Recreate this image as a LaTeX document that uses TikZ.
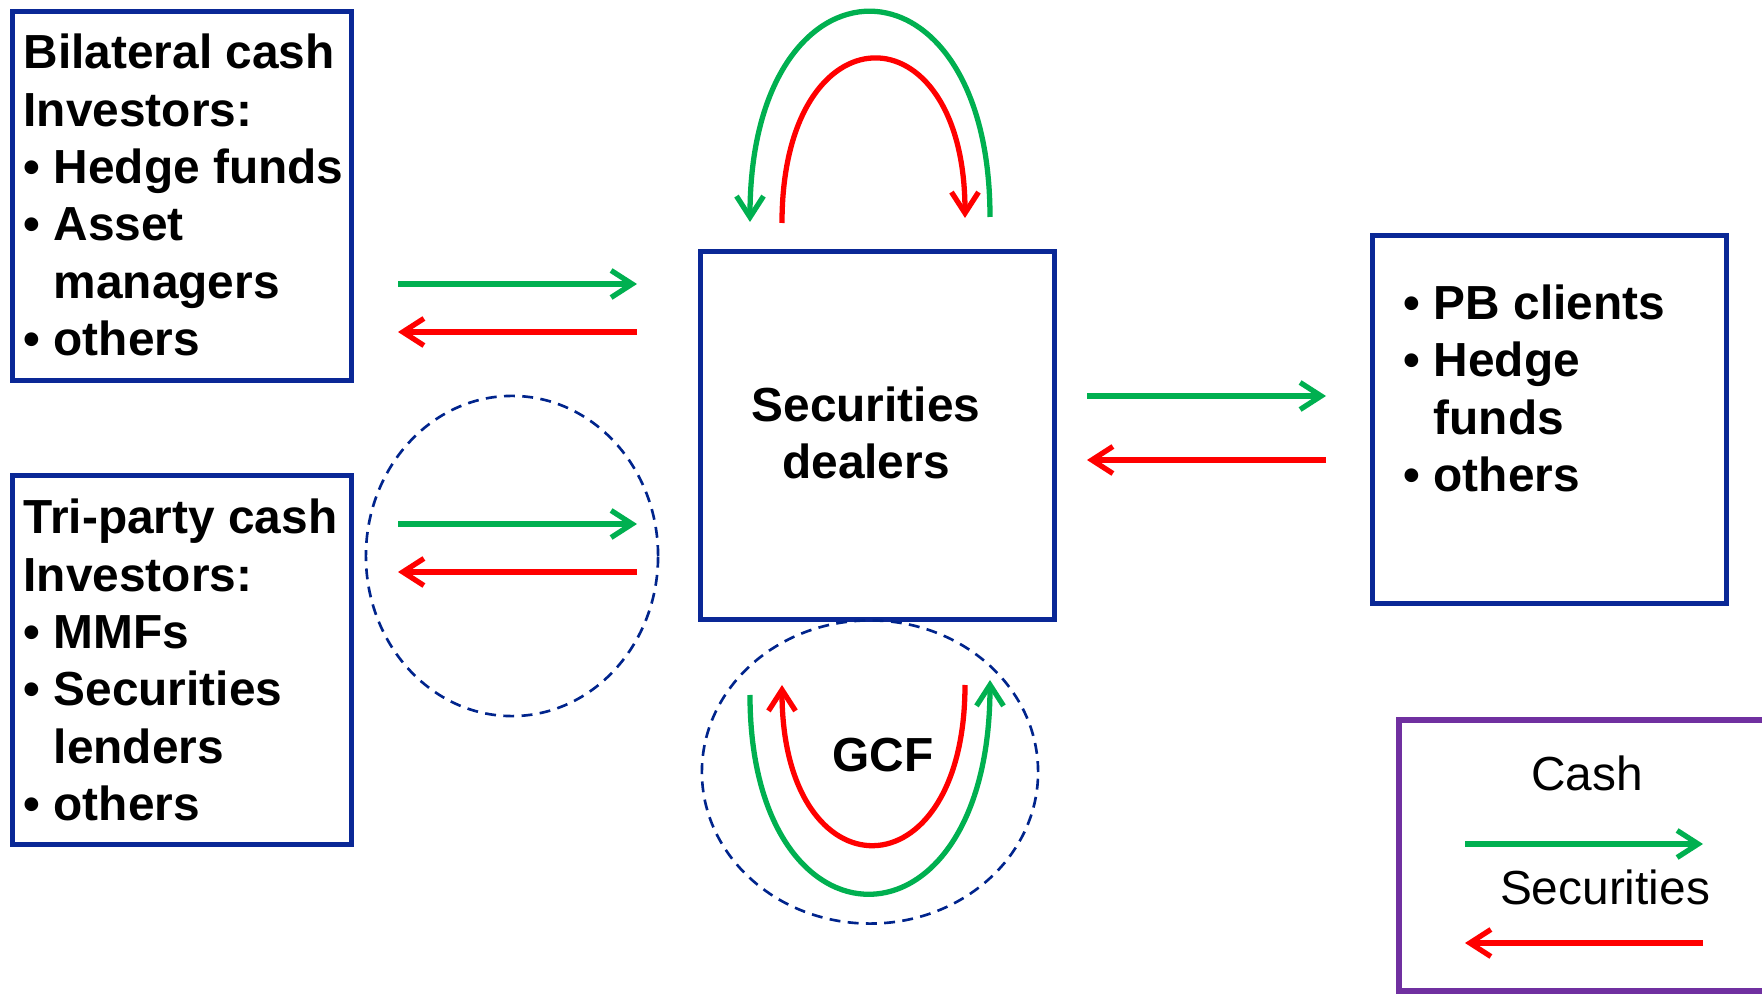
\documentclass[tikz,border=0pt]{standalone}
\usepackage{fontspec}
\setmainfont{Liberation Sans}
\usetikzlibrary{arrows.meta,shapes.geometric}

\definecolor{boxblue}{RGB}{10,40,150}
\definecolor{ringblue}{RGB}{0,36,140}
\definecolor{cashgreen}{RGB}{0,176,80}
\definecolor{secred}{RGB}{255,0,0}
\definecolor{keypurple}{RGB}{112,48,160}

\newcommand{\boxfont}{\fontsize{13.6}{16.3}\selectfont\bfseries}
\newcommand{\keyfont}{\fontsize{13.6}{16.3}\selectfont}
\newcommand{\itm}{\textbullet\ }
\newcommand{\itmgap}{\hphantom{\textbullet\ }}

\begin{document}
\begin{tikzpicture}[
		x=0.01cm, y=-0.01cm,
		party/.style={rectangle, draw=boxblue, line width=1.4pt, minimum width=3.38cm, minimum height=3.68cm},
		list/.style={font=\boxfont, align=left, inner sep=0},
		ring/.style={ellipse, draw=ringblue, line width=0.75pt, dash pattern=on 3.1pt off 2.1pt, inner sep=0},
		cash/.style={draw=cashgreen, line width=1.5pt, -{Straight Barb[length=2.1mm,width=2.7mm]}},
		sec/.style={draw=secred, line width=1.5pt, -{Straight Barb[length=2.1mm,width=2.7mm]}}
	]
  \useasboundingbox (0,0) rectangle (1762,994);
  \node (bilateral) [party] at (182,196) {};
  \node (bilateral_list) [list, anchor=west] at (23,195) {Bilateral cash\\Investors:\\\itm Hedge funds\\\itm Asset\\\itmgap managers\\\itm others};
  \node (triparty) [party] at (182,660) {};
  \node (triparty_list) [list, anchor=west] at (23,660) {Tri-party cash\\Investors:\\\itm MMFs\\\itm Securities\\\itmgap lenders\\\itm others};
  \node (dealers) [party, minimum width=3.53cm, minimum height=3.67cm] at (877.5,435.5) {};
  \node (dealers_label) [list, align=center] at (866,433) {Securities\\dealers};
  \node (prime) [party, minimum width=3.53cm, minimum height=3.67cm] at (1549.5,419.5) {};
  \node (prime_list) [list, anchor=north west] at (1403,284) {\itm PB clients\\\itm Hedge\\\itmgap funds\\\itm others};
  \node (tri_ring) [ring, minimum width=2.92cm, minimum height=3.2cm] at (512,556) {};
  \node (gcf_ring) [ring, minimum width=3.36cm, minimum height=3.03cm] at (870,772) {};
  \node (gcf) [list] at (883,755) {GCF};
  \node (key) [rectangle, draw=keypurple, line width=1.7pt, minimum width=3.9cm, minimum height=2.71cm] at (1594,855.5) {};
  \node (key_cash) [font=\keyfont] at (1587,773) {Cash};
  \node (key_sec) [font=\keyfont] at (1605,887) {Securities};
  \coordinate (bi_a) at (398,284);
  \coordinate (bi_b) at (637,284);
  \coordinate (bi_c) at (637,332);
  \coordinate (bi_d) at (398,332);
  \coordinate (tri_a) at (398,524);
  \coordinate (tri_b) at (637,524);
  \coordinate (tri_c) at (637,572);
  \coordinate (tri_d) at (398,572);
  \coordinate (pb_a) at (1087,396);
  \coordinate (pb_b) at (1326,396);
  \coordinate (pb_c) at (1326,460);
  \coordinate (pb_d) at (1087,460);
  \coordinate (key_a) at (1465,844);
  \coordinate (key_b) at (1703,844);
  \coordinate (key_c) at (1703,943);
  \coordinate (key_d) at (1465,943);
  \coordinate (top_g1) at (990,217);
  \coordinate (top_g2) at (750,222);
  \coordinate (top_r1) at (782,223);
  \coordinate (top_r2) at (965,218);
  \coordinate (gcf_g1) at (750,695);
  \coordinate (gcf_g2) at (990,680);
  \coordinate (gcf_r1) at (965,685);
  \coordinate (gcf_r2) at (782,685);
  \draw (bi_a) edge [cash] (bi_b);
  \draw (bi_c) edge [sec] (bi_d);
  \draw (tri_a) edge [cash] (tri_b);
  \draw (tri_c) edge [sec] (tri_d);
  \draw (pb_a) edge [cash] (pb_b);
  \draw (pb_c) edge [sec] (pb_d);
  \draw (key_a) edge [cash] (key_b);
  \draw (key_c) edge [sec] (key_d);
  \draw [cash] (top_g1) .. controls (990,-57) and (750,-57) .. (top_g2);
  \draw [sec] (top_r1) .. controls (782,5) and (965,5) .. (top_r2);
  \draw [cash] (gcf_g1) .. controls (750,962) and (990,962) .. (gcf_g2);
  \draw [sec] (gcf_r1) .. controls (965,898) and (782,898) .. (gcf_r2);
\end{tikzpicture}
\end{document}
